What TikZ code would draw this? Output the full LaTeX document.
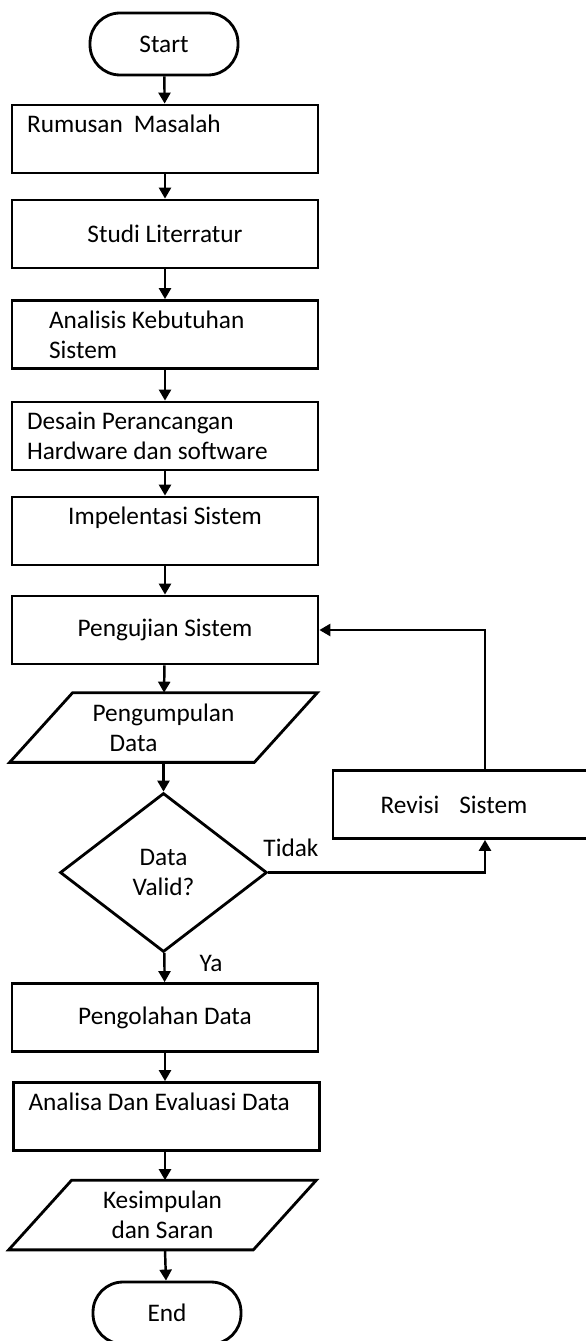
\documentclass[tikz,border=0pt]{standalone}
\usepackage{fontspec}
\setmainfont{Carlito}
\usetikzlibrary{arrows.meta,shapes.geometric}
\tikzset{font=\fontsize{14.4}{17}\selectfont}
\tikzset{
  box/.style={draw, line width=1.6pt, minimum width=6.12cm, minimum height=1.36cm, inner sep=0pt, align=flush center},
  boxleft/.style={box, text width=5.52cm, inner xsep=0.3cm, align=flush left},
  term/.style={draw, line width=1.6pt, rounded corners=0.6cm, minimum width=2.96cm, minimum height=1.24cm},
  io/.style={minimum width=6.14cm, minimum height=1.38cm, inner sep=0pt, align=flush center},
  decision/.style={draw, line width=1.6pt, diamond, minimum width=4.14cm, minimum height=3.18cm, inner sep=0pt, align=flush center},
  flow/.style={->, line width=1.4pt}
}

\begin{document}
\begin{tikzpicture}[x=0.02cm, y=-0.02cm, >={Triangle[length=2.2mm,width=2.4mm]}]
  \useasboundingbox (0,0) rectangle (585,1341);

  \node[term] (start) at (164,44) {Start};
  \node[boxleft] (rumusan) at (165,139) {Rumusan\hspace{0.22cm}Masalah\\ \mbox{}};
  \node[box] (studi) at (165,234) {Studi Literratur};
  \node[boxleft, text width=4.64cm, inner xsep=0.74cm] (analisis) at (165,334.5) {Analisis Kebutuhan\\Sistem};
  \node[boxleft] (desain) at (165,436) {Desain Perancangan\\Hardware dan software};
  \node[box] (impl) at (165,531) {Impelentasi Sistem\\ \mbox{}};
  \node[box] (uji) at (165,630) {Pengujian Sistem};
  \node[io, align=flush left] (kumpul) at (163.5,727.5) {Pengumpulan\\\hspace*{0.34cm}Data};
  \node[decision] (valid) at (163.5,872.5) {Data\\Valid?};
  \node[box, minimum width=5.14cm] (revisi) at (461.5,804.5) {Revisi\hspace{0.4cm}Sistem\hspace*{0.3cm}};
  \node[box] (olah) at (165,1017.5) {Pengolahan Data};
  \node[boxleft] (analisa) at (166.5,1116.5) {Analisa Dan Evaluasi Data\\ \mbox{}};
  \node[io] (simpul) at (162.5,1215) {Kesimpulan\\dan Saran};
  \node[term] (end) at (167,1313) {End};

  % input/output outlines
  \foreach \n in {kumpul, simpul}{
    \draw[line width=1.6pt] ([xshift=1.26cm]\n.north west) -- (\n.north east)
      -- ([xshift=-1.26cm]\n.south east) -- (\n.south west) -- cycle;
  };

  \node (tidak) at (291,848) {Tidak};
  \node (ya) at (211,963) {Ya};
  \coordinate (loop) at (485,804.5);

  % main line
  \draw[flow] (start) -- (rumusan);
  \draw[flow] (rumusan) -- (studi);
  \draw[flow] (studi) -- (analisis);
  \draw[flow] (analisis) -- (desain);
  \draw[flow] (desain) -- (impl);
  \draw[flow] (impl) -- (uji);
  \draw[flow] (uji) -- (kumpul);
  \draw[flow] (kumpul) -- (valid);
  \draw[flow] (valid) -- (olah);
  \draw[flow] (olah) -- (analisa.north -| olah.south);
  \draw[flow] (analisa.south -| olah.south) -- (simpul.north -| olah.south);
  \draw[flow] (simpul.south -| olah.south) -- (end);

  % revisi loop
  \draw[flow] (valid.east) -| (loop |- revisi.south);
  \draw[flow] (loop |- revisi.north) |- (uji.east);
\end{tikzpicture}
\end{document}
